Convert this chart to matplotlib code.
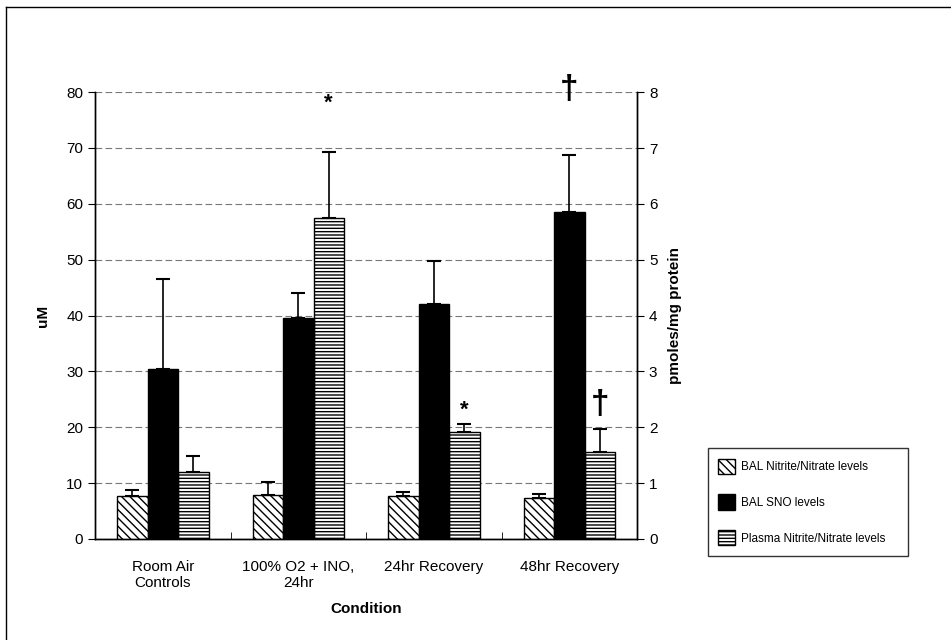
import matplotlib
matplotlib.use('Agg')
import matplotlib.pyplot as plt
import matplotlib.lines as mlines
import numpy as np

plt.rcParams['font.family'] = ['Liberation Sans', 'DejaVu Sans']
plt.rcParams['hatch.linewidth'] = 1.0

# data
conditions = ['Room Air\nControls', '100% O2 + INO,\n24hr', '24hr Recovery', '48hr Recovery']
bal_nox = [7.7, 7.8, 7.6, 7.3]          # uM
bal_nox_err = [1.1, 2.4, 0.8, 0.7]
bal_sno = [3.05, 3.95, 4.2, 5.85]       # pmoles/mg protein
bal_sno_err = [1.6, 0.45, 0.77, 1.02]
plasma_nox = [12.0, 57.5, 19.2, 15.5]   # uM
plasma_nox_err = [2.8, 11.8, 1.3, 4.2]

# significance marks: (condition index, series offset, y in uM, symbol)
marks = [(1, 1, 78.0, '*'), (2, 1, 23.0, '*'), (3, 0, 80.5, '\u2020'), (3, 1, 24.0, '\u2020')]

fig = plt.figure(figsize=(9.51, 6.4), dpi=100)
ax = fig.add_axes([0.0999, 0.158, 0.57, 0.698])
ax2 = ax.twinx()

x = np.arange(len(conditions))
w = 0.225
err_kw = dict(ecolor='black', elinewidth=1.2, capsize=5, capthick=1.5)

b1 = ax.bar(x - w, bal_nox, w, color='white', edgecolor='black', hatch='\\\\\\\\',
            linewidth=1.0, label='BAL Nitrite/Nitrate levels', zorder=3)
ax.errorbar(x - w, bal_nox, yerr=[np.zeros(4), bal_nox_err], fmt='none', zorder=4, **err_kw)
b2 = ax2.bar(x, bal_sno, w, color='black', edgecolor='black',
             linewidth=1.0, label='BAL SNO levels', zorder=3)
ax2.errorbar(x, bal_sno, yerr=[np.zeros(4), bal_sno_err], fmt='none', zorder=4, **err_kw)
b3 = ax.bar(x + w, plasma_nox, w, color='white', edgecolor='black', hatch='-----',
            linewidth=1.0, label='Plasma Nitrite/Nitrate levels', zorder=3)
ax.errorbar(x + w, plasma_nox, yerr=[np.zeros(4), plasma_nox_err], fmt='none', zorder=4, **err_kw)

for i, off, yv, sym in marks:
    size = 16 if sym == '*' else 24
    ax.text(x[i] + off * w, yv, sym, ha='center', va='center', fontsize=size,
            fontweight='bold', clip_on=False, zorder=5)

ax.set_xlim(-0.5, 3.5)
ax.set_ylim(0, 80)
ax2.set_ylim(0, 8)
ax.set_yticks(range(0, 81, 10))
ax2.set_yticks(range(0, 9, 1))
ax.yaxis.grid(True, linestyle=(0, (6, 3)), color='#777777', linewidth=0.8)
ax.set_axisbelow(True)

ax.set_xticks(x)
ax.set_xticklabels(conditions, fontsize=11)
ax.set_xticks(np.arange(-0.5, 4.0, 1.0), minor=True)
ax.tick_params(axis='x', which='major', length=0, pad=15)
ax.tick_params(axis='x', which='minor', length=5, direction='in')
ax.tick_params(axis='y', labelsize=11, length=5)
ax2.tick_params(axis='y', labelsize=11, length=5)

for a in (ax, ax2):
    a.spines['top'].set_visible(False)
    for s in a.spines.values():
        s.set_linewidth(1.0)

ax.set_xlabel('Condition', fontsize=11, fontweight='bold', labelpad=9)
ax.set_ylabel('uM', fontsize=11, fontweight='bold', labelpad=12)
ax2.set_ylabel('pmoles/mg protein', fontsize=11, fontweight='bold', labelpad=8)

fig.legend(handles=[b1, b2, b3], loc='upper left', bbox_to_anchor=(0.744, 0.3, 0.211, 0.0),
           mode='expand', frameon=True, fancybox=False, edgecolor='black', fontsize=8.5,
           handlelength=1.4, handleheight=1.6, handletextpad=0.5, labelspacing=1.75,
           borderpad=0.9, borderaxespad=0)

# frame lines along the top and left of the page
fig.add_artist(mlines.Line2D([0.006, 1.0], [0.989, 0.989], color='black', linewidth=1.0))
fig.add_artist(mlines.Line2D([0.006, 0.006], [0.0, 0.989], color='black', linewidth=1.0))

fig.savefig('out.png', dpi=100)
